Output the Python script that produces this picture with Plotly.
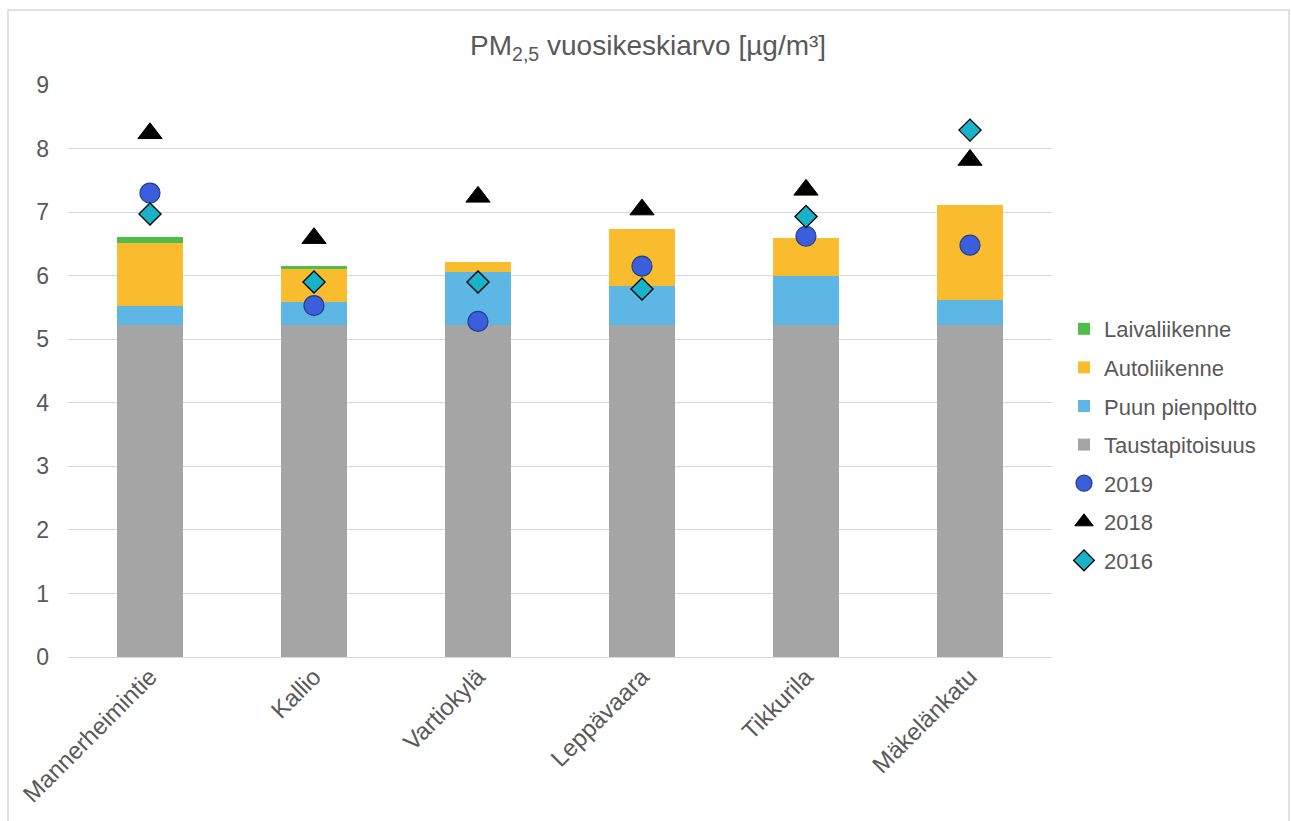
import plotly.graph_objects as go

categories = ["Mannerheimintie", "Kallio", "Vartiokylä", "Leppävaara", "Tikkurila", "Mäkelänkatu"]

taustapitoisuus = [5.22, 5.22, 5.22, 5.22, 5.22, 5.22]
puun_pienpoltto = [0.30, 0.37, 0.83, 0.62, 0.78, 0.40]
autoliikenne = [1.00, 0.53, 0.16, 0.90, 0.60, 1.49]
laivaliikenne = [0.09, 0.03, 0.00, 0.00, 0.00, 0.00]

v2019 = [7.30, 5.53, 5.28, 6.15, 6.62, 6.48]
v2018 = [8.24, 6.59, 7.24, 7.04, 7.35, 7.82]
v2016 = [6.97, 5.90, 5.90, 5.79, 6.93, 8.29]

y_ticks = [0, 1, 2, 3, 4, 5, 6, 7, 8, 9]

FONT = "Liberation Sans, Arial, sans-serif"
TXT = "#595959"

fig = go.Figure()

fig.add_trace(go.Bar(x=categories, y=taustapitoisuus, name="Taustapitoisuus", legendgroup="g4", legendrank=4,
                     marker=dict(color="#A5A5A5", line=dict(width=0))))
fig.add_trace(go.Bar(x=categories, y=puun_pienpoltto, name="Puun pienpoltto", legendgroup="g3", legendrank=3,
                     marker=dict(color="#5EB6E4", line=dict(width=0))))
fig.add_trace(go.Bar(x=categories, y=autoliikenne, name="Autoliikenne", legendgroup="g2", legendrank=2,
                     marker=dict(color="#F9BC2E", line=dict(width=0))))
fig.add_trace(go.Bar(x=categories, y=laivaliikenne, name="Laivaliikenne", legendgroup="g1", legendrank=1,
                     marker=dict(color="#4DBE4B", line=dict(width=0))))

fig.add_trace(go.Scatter(x=categories, y=v2019, mode="markers", name="2019", legendgroup="g5", legendrank=5,
                         marker=dict(symbol="circle", size=20, color="#3B5EDC",
                                     line=dict(color="#253E8C", width=1.2))))
fig.add_trace(go.Scatter(x=categories, y=v2018, mode="markers", name="2018", legendgroup="g6", legendrank=6,
                         marker=dict(symbol="triangle-up", size=21, color="#000000",
                                     line=dict(color="#000000", width=1))))
fig.add_trace(go.Scatter(x=categories, y=v2016, mode="markers", name="2016", legendgroup="g7", legendrank=7,
                         marker=dict(symbol="diamond", size=17, color="#1AB2C9",
                                     line=dict(color="#000000", width=1.3))))

W, H = 1291, 821
L, R, T, B = 68, 239, 85, 164
pw, ph = W - L - R, H - T - B

def px_x(px):
    return (px - L) / pw

def px_y(py):
    return (H - B - py) / ph

fig.update_layout(
    width=W, height=H,
    margin=dict(l=L, r=R, t=T, b=B),
    paper_bgcolor="white", plot_bgcolor="white",
    barmode="stack", bargap=0.598,
    font=dict(family=FONT, color=TXT, size=22),
    title=dict(text="PM<sub>2,5</sub> vuosikeskiarvo [µg/m³]", x=0.502, xref="container",
               y=1 - 45 / H, yref="container", xanchor="center", yanchor="middle",
               font=dict(family=FONT, size=28, color=TXT)),
    showlegend=True,
    legend=dict(x=px_x(1064), y=px_y(308), xanchor="left", yanchor="top",
                traceorder="grouped", tracegroupgap=7,
                font=dict(family=FONT, size=22, color=TXT),
                bgcolor="rgba(0,0,0,0)", itemwidth=30),
    xaxis=dict(showgrid=False, showline=False, ticks="", tickangle=-45,
               tickfont=dict(family=FONT, size=24, color=TXT)),
    yaxis=dict(range=[0, 9], tickvals=y_ticks, showgrid=True, gridcolor="#D9D9D9", gridwidth=1.3,
               zeroline=True, zerolinecolor="#D9D9D9", zerolinewidth=1.3, showline=False,
               ticks="", ticklabelstandoff=18,
               tickfont=dict(family=FONT, size=23, color=TXT)),
    shapes=[dict(type="rect", xref="paper", yref="paper",
                 x0=px_x(8), x1=px_x(1289), y0=px_y(10), y1=px_y(840),
                 line=dict(color="#D9D9D9", width=1.5), fillcolor="rgba(0,0,0,0)", layer="below")],
)

fig.write_html("out.html")
